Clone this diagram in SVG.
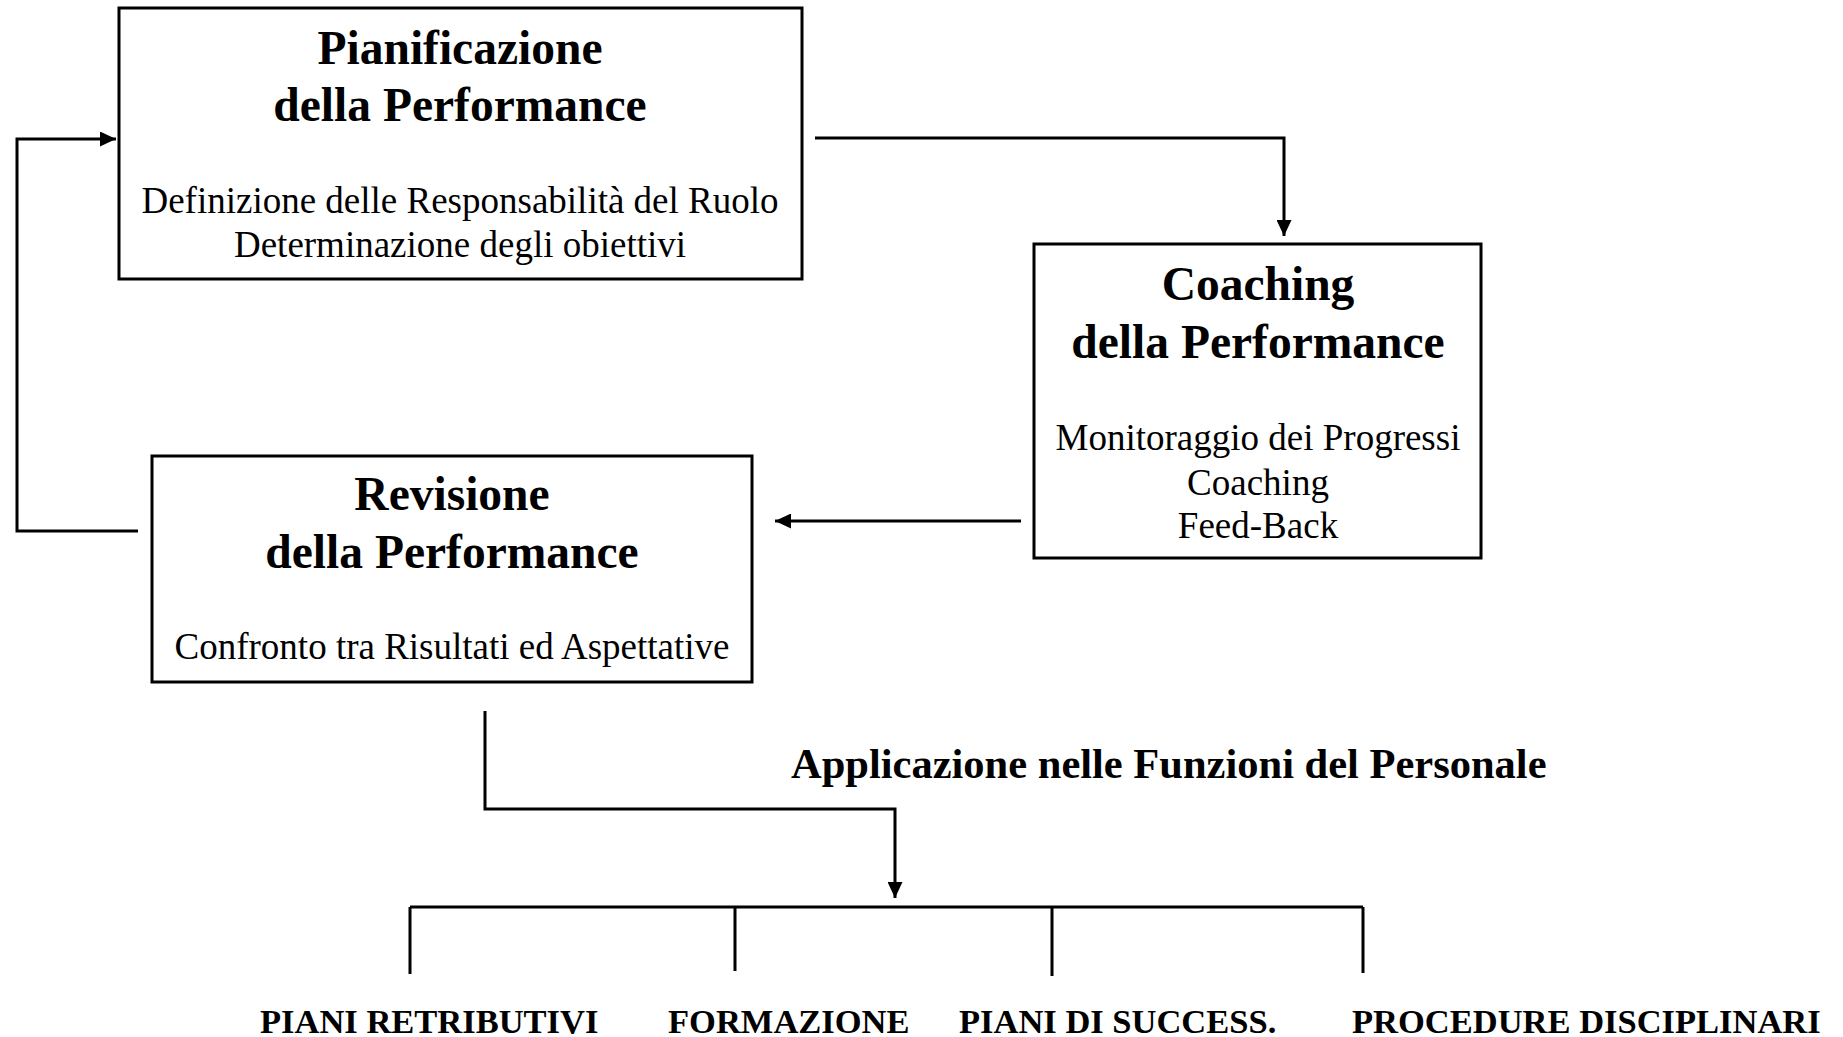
<svg xmlns="http://www.w3.org/2000/svg" width="1843" height="1037" viewBox="0 0 1843 1037">
<style>
.box{fill:#fff;stroke:#000;stroke-width:3}
.t{font-family:"Liberation Serif","Times New Roman",serif;font-weight:bold;font-size:47.5px;text-anchor:middle;fill:#000}
.b{font-family:"Liberation Serif","Times New Roman",serif;font-size:37px;text-anchor:middle;fill:#000}
.lab{font-family:"Liberation Serif","Times New Roman",serif;font-weight:bold;font-size:34.5px;fill:#000}
.app{font-family:"Liberation Serif","Times New Roman",serif;font-weight:bold;font-size:42.5px;fill:#000}
.ln{fill:none;stroke:#000;stroke-width:3}
</style>
<defs>
<marker id="ah" markerWidth="16" markerHeight="15" refX="16" refY="7.5" orient="auto" markerUnits="userSpaceOnUse">
<path d="M0,0 L16,7.5 L0,15 Z" fill="#000"/>
</marker>
</defs>
<rect width="1843" height="1037" fill="#fff"/>
<g id="connectors">
<path class="ln" d="M815,138 H1284 V236" marker-end="url(#ah)"/>
<path class="ln" d="M138,531 H17 V139 H116" marker-end="url(#ah)"/>
<path class="ln" d="M1021,521 H775" marker-end="url(#ah)"/>
<path class="ln" d="M485,711 V809 H895 V898" marker-end="url(#ah)"/>
<path class="ln" stroke-width="3.5" d="M410,907 H1363"/>
<path class="ln" d="M410,907 V974 M735,907 V971 M1052,907 V976 M1363,907 V973"/>
</g>
<g id="pianificazione">
<rect class="box" x="119" y="8" width="683" height="271"/>
<text class="t" x="460" y="64">Pianificazione</text>
<text class="t" x="460" y="121">della Performance</text>
<text class="b" x="460" y="213">Definizione delle Responsabilità del Ruolo</text>
<text class="b" x="460" y="257">Determinazione degli obiettivi</text>
</g>
<g id="coaching">
<rect class="box" x="1034" y="244" width="447" height="314"/>
<text class="t" x="1258" y="300">Coaching</text>
<text class="t" x="1258" y="358">della Performance</text>
<text class="b" x="1258" y="450">Monitoraggio dei Progressi</text>
<text class="b" x="1258" y="495">Coaching</text>
<text class="b" x="1258" y="538">Feed-Back</text>
</g>
<g id="revisione">
<rect class="box" x="152" y="456" width="600" height="226"/>
<text class="t" x="452" y="510">Revisione</text>
<text class="t" x="452" y="568">della Performance</text>
<text class="b" x="452" y="659">Confronto tra Risultati ed Aspettative</text>
</g>
<g id="applicazione">
<text class="app" x="791" y="778">Applicazione nelle Funzioni del Personale</text>
</g>
<g id="piani-retributivi"><text class="lab" x="260" y="1033">PIANI RETRIBUTIVI</text></g>
<g id="formazione"><text class="lab" x="668" y="1033">FORMAZIONE</text></g>
<g id="piani-successione"><text class="lab" x="959" y="1033">PIANI DI SUCCESS.</text></g>
<g id="procedure"><text class="lab" x="1352" y="1033">PROCEDURE DISCIPLINARI</text></g>
</svg>
